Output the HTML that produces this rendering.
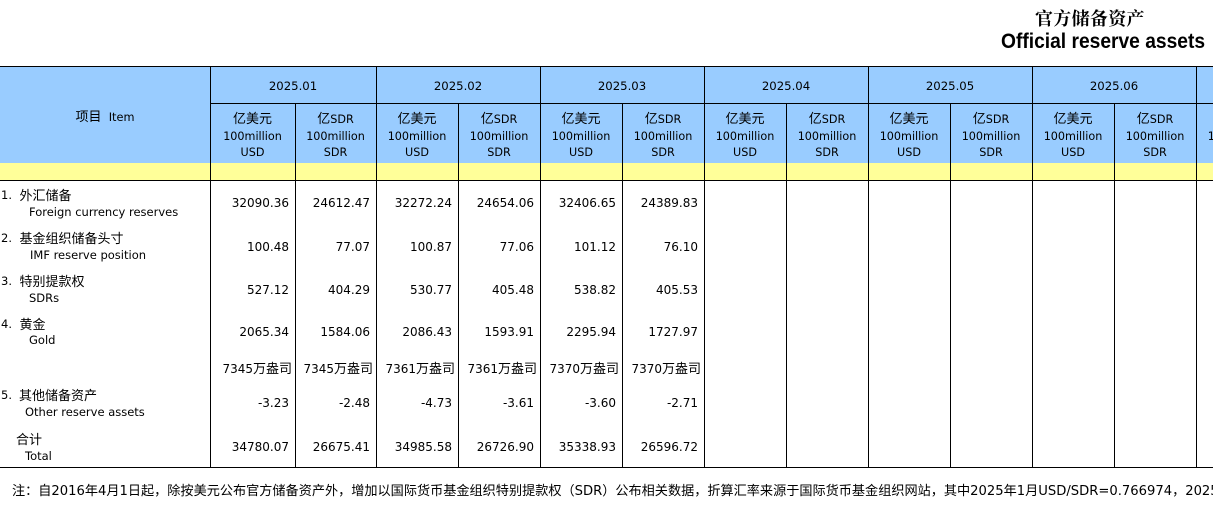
<!DOCTYPE html>
<html><head><meta charset="utf-8">
<style>
body{margin:0;width:1213px;height:507px;overflow:hidden;position:relative;background:#fff;font-family:"DejaVu Sans","Noto Sans CJK SC",sans-serif;color:#000}
.a{position:absolute;white-space:nowrap}
.hl{position:absolute;height:1px;background:#000}
.vl{position:absolute;width:1px;background:#000}
.ct{text-align:center}
.rt{text-align:right}
.cj{font-family:"Noto Sans CJK SC",sans-serif;font-size:13px}
.dt{font-size:11.7px;line-height:16px;top:78px}
.un{font-size:11.2px;line-height:16.5px;top:110px;text-align:center}
.n{font-size:12px;line-height:16px;text-align:right}
.lb{font-size:11.5px;line-height:16px}
.c0{left:210px;width:79px}.c1{left:295px;width:75px}
.c2{left:376px;width:76px}.c3{left:458px;width:76px}
.c4{left:540px;width:76px}.c5{left:622px;width:76px}
.o0{left:210px;width:82px}.o1{left:295px;width:78px}
.o2{left:376px;width:79px}.o3{left:458px;width:79px}
.o4{left:540px;width:79px}.o5{left:622px;width:79px}
.r1{top:195px}.r2{top:238.5px}.r3{top:281.5px}.r4{top:324px}.r5{top:360px}.r6{top:395px}.r7{top:439px}
</style></head><body>

<!-- titles -->
<div class="a" style="left:1035px;top:8px;font-family:'Noto Serif CJK SC',serif;font-weight:bold;font-size:18px;line-height:20px;letter-spacing:0.3px">官方储备资产</div>
<div class="a" style="left:1001px;top:30px;font-family:'Liberation Sans',sans-serif;font-weight:bold;font-size:21px;line-height:24px;transform:scaleX(0.915);transform-origin:0 0">Official reserve assets</div>

<!-- backgrounds -->
<div class="a" style="left:0;top:67px;width:1213px;height:96px;background:#99CCFF"></div>
<div class="a" style="left:0;top:163px;width:1213px;height:17px;background:#FFFF99"></div>

<!-- horizontal lines -->
<div class="hl" style="left:0;top:66px;width:1213px"></div>
<div class="hl" style="left:210px;top:103px;width:1003px"></div>
<div class="hl" style="left:0;top:180px;width:1213px"></div>
<div class="hl" style="left:0;top:467px;width:1213px"></div>

<!-- vertical lines -->
<div class="vl" style="left:210px;top:66px;height:402px"></div>
<div class="vl" style="left:376px;top:66px;height:402px"></div>
<div class="vl" style="left:540px;top:66px;height:402px"></div>
<div class="vl" style="left:704px;top:66px;height:402px"></div>
<div class="vl" style="left:868px;top:66px;height:402px"></div>
<div class="vl" style="left:1032px;top:66px;height:402px"></div>
<div class="vl" style="left:1196px;top:66px;height:402px"></div>
<div class="vl" style="left:295px;top:103px;height:365px"></div>
<div class="vl" style="left:458px;top:103px;height:365px"></div>
<div class="vl" style="left:622px;top:103px;height:365px"></div>
<div class="vl" style="left:786px;top:103px;height:365px"></div>
<div class="vl" style="left:950px;top:103px;height:365px"></div>
<div class="vl" style="left:1114px;top:103px;height:365px"></div>

<!-- header item -->
<div class="a ct" style="left:0;width:210px;top:108px;line-height:16px;font-size:11.3px"><span class="cj">项目</span>&nbsp;&nbsp;Item</div>

<!-- dates -->
<div class="a ct dt" style="left:210px;width:166px">2025.01</div>
<div class="a ct dt" style="left:376px;width:164px">2025.02</div>
<div class="a ct dt" style="left:540px;width:164px">2025.03</div>
<div class="a ct dt" style="left:704px;width:164px">2025.04</div>
<div class="a ct dt" style="left:868px;width:164px">2025.05</div>
<div class="a ct dt" style="left:1032px;width:164px">2025.06</div>

<!-- units -->
<div class="a un" style="left:210px;width:85px"><span class="cj">亿美元</span><br>100million<br>USD</div>
<div class="a un" style="left:295px;width:81px"><span class="cj">亿</span>SDR<br>100million<br>SDR</div>
<div class="a un" style="left:376px;width:82px"><span class="cj">亿美元</span><br>100million<br>USD</div>
<div class="a un" style="left:458px;width:82px"><span class="cj">亿</span>SDR<br>100million<br>SDR</div>
<div class="a un" style="left:540px;width:82px"><span class="cj">亿美元</span><br>100million<br>USD</div>
<div class="a un" style="left:622px;width:82px"><span class="cj">亿</span>SDR<br>100million<br>SDR</div>
<div class="a un" style="left:704px;width:82px"><span class="cj">亿美元</span><br>100million<br>USD</div>
<div class="a un" style="left:786px;width:82px"><span class="cj">亿</span>SDR<br>100million<br>SDR</div>
<div class="a un" style="left:868px;width:82px"><span class="cj">亿美元</span><br>100million<br>USD</div>
<div class="a un" style="left:950px;width:82px"><span class="cj">亿</span>SDR<br>100million<br>SDR</div>
<div class="a un" style="left:1032px;width:82px"><span class="cj">亿美元</span><br>100million<br>USD</div>
<div class="a un" style="left:1114px;width:82px"><span class="cj">亿</span>SDR<br>100million<br>SDR</div>
<div class="a" style="left:1197px;top:100px;width:16px;height:70px;overflow:hidden">
  <div class="a un" style="left:-1px;top:10px;width:82px"><span class="cj">亿美元</span><br>100million<br>USD</div>
</div>

<!-- labels -->
<div class="a lb" style="left:1px;top:187px">1.</div>
<div class="a lb" style="left:19.5px;top:187px"><span class="cj">外汇储备</span></div>
<div class="a lb" style="left:29px;top:203.5px">Foreign currency reserves</div>

<div class="a lb" style="left:1px;top:230px">2.</div>
<div class="a lb" style="left:19.5px;top:230px"><span class="cj">基金组织储备头寸</span></div>
<div class="a lb" style="left:30px;top:246.5px">IMF reserve position</div>

<div class="a lb" style="left:1px;top:273px">3.</div>
<div class="a lb" style="left:19.5px;top:273px"><span class="cj">特别提款权</span></div>
<div class="a lb" style="left:29px;top:289.5px">SDRs</div>

<div class="a lb" style="left:1px;top:316px">4.</div>
<div class="a lb" style="left:19.5px;top:316px"><span class="cj">黄金</span></div>
<div class="a lb" style="left:29px;top:332px">Gold</div>

<div class="a lb" style="left:1px;top:387px">5.</div>
<div class="a lb" style="left:19px;top:387px"><span class="cj">其他储备资产</span></div>
<div class="a lb" style="left:25px;top:403.5px">Other reserve assets</div>

<div class="a lb" style="left:16px;top:431px"><span class="cj">合计</span></div>
<div class="a lb" style="left:25px;top:447.5px">Total</div>

<!-- numbers row1 -->
<div class="a n c0 r1">32090.36</div><div class="a n c1 r1">24612.47</div>
<div class="a n c2 r1">32272.24</div><div class="a n c3 r1">24654.06</div>
<div class="a n c4 r1">32406.65</div><div class="a n c5 r1">24389.83</div>
<!-- row2 -->
<div class="a n c0 r2">100.48</div><div class="a n c1 r2">77.07</div>
<div class="a n c2 r2">100.87</div><div class="a n c3 r2">77.06</div>
<div class="a n c4 r2">101.12</div><div class="a n c5 r2">76.10</div>
<!-- row3 -->
<div class="a n c0 r3">527.12</div><div class="a n c1 r3">404.29</div>
<div class="a n c2 r3">530.77</div><div class="a n c3 r3">405.48</div>
<div class="a n c4 r3">538.82</div><div class="a n c5 r3">405.53</div>
<!-- row4 -->
<div class="a n c0 r4">2065.34</div><div class="a n c1 r4">1584.06</div>
<div class="a n c2 r4">2086.43</div><div class="a n c3 r4">1593.91</div>
<div class="a n c4 r4">2295.94</div><div class="a n c5 r4">1727.97</div>
<!-- oz -->
<div class="a n o0 r5">7345<span class="cj">万盎司</span></div><div class="a n o1 r5">7345<span class="cj">万盎司</span></div>
<div class="a n o2 r5">7361<span class="cj">万盎司</span></div><div class="a n o3 r5">7361<span class="cj">万盎司</span></div>
<div class="a n o4 r5">7370<span class="cj">万盎司</span></div><div class="a n o5 r5">7370<span class="cj">万盎司</span></div>
<!-- row5 -->
<div class="a n c0 r6">-3.23</div><div class="a n c1 r6">-2.48</div>
<div class="a n c2 r6">-4.73</div><div class="a n c3 r6">-3.61</div>
<div class="a n c4 r6">-3.60</div><div class="a n c5 r6">-2.71</div>
<!-- total -->
<div class="a n c0 r7">34780.07</div><div class="a n c1 r7">26675.41</div>
<div class="a n c2 r7">34985.58</div><div class="a n c3 r7">26726.90</div>
<div class="a n c4 r7">35338.93</div><div class="a n c5 r7">26596.72</div>

<!-- note -->
<div class="a" style="left:12px;top:483px;width:1201px;height:18px;overflow:hidden">
  <div class="a" style="left:0;top:0;font-size:13.15px;line-height:18px">注：自2016年4月1日起，除按美元公布官方储备资产外，增加以国际货币基金组织特别提款权（SDR）公布相关数据，折算汇率来源于国际货币基金组织网站，其中2025年1月USD/SDR=0.766974，2025年2月</div>
</div>

</body></html>
